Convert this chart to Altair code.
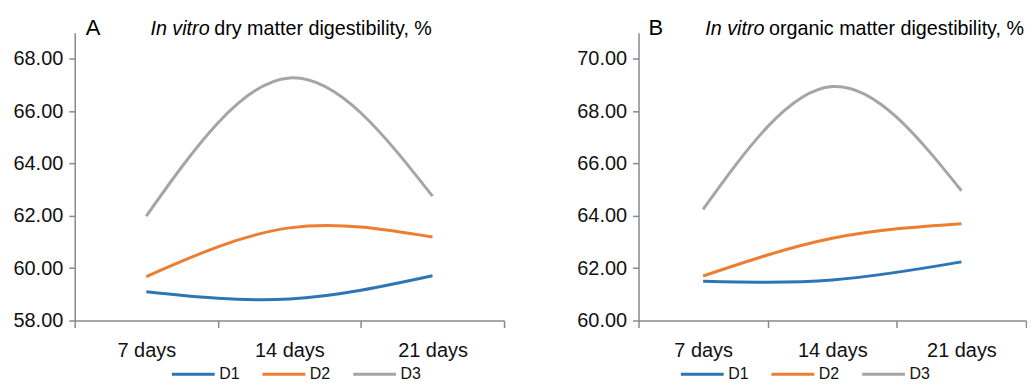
import altair as alt
import pandas as pd

FONT = "Liberation Sans, Arial, sans-serif"

days = ["7 days", "14 days", "21 days"]
series = ["D1", "D2", "D3"]
colors = ["#2E75B6", "#ED7D31", "#A5A5A5"]

a_d1 = [59.10, 58.82, 59.71]
a_d2 = [59.68, 61.54, 61.19]
a_d3 = [61.99, 67.27, 62.75]

b_d1 = [61.50, 61.55, 62.24]
b_d2 = [61.70, 63.14, 63.70]
b_d3 = [64.25, 68.94, 64.96]

a_ticks = [58, 60, 62, 64, 66, 68]
b_ticks = [60, 62, 64, 66, 68, 70]

AXIS_GRAY = "#898989"
PLOT_H = 289


def panel(vals, ymin, ticks, letter, italic, rest, w, pos, legx):
    rows = []
    for s, v in zip(series, vals):
        for d, y in zip(days, v):
            rows.append({"day": d, "series": s, "value": y})
    df = pd.DataFrame(rows)

    lines = alt.Chart(df).mark_line(interpolate="natural", strokeWidth=3).encode(
        x=alt.X(
            "day:N",
            sort=days,
            bandPosition=0.5,
            scale=alt.Scale(type="band", paddingInner=0, paddingOuter=0),
            axis=alt.Axis(
                title=None, labelAngle=0, tickBand="extent", tickSize=7,
                tickColor=AXIS_GRAY, domainColor=AXIS_GRAY, domainWidth=1.5, tickWidth=1.5,
                labelFont=FONT, labelFontSize=20, labelColor="#111111", labelPadding=13,
                grid=False,
            ),
        ),
        y=alt.Y(
            "value:Q",
            scale=alt.Scale(domain=[ymin, ymin + 11], nice=False, zero=False),
            axis=alt.Axis(
                title=None, values=ticks, format=".2f", tickSize=6,
                tickColor=AXIS_GRAY, domainColor=AXIS_GRAY, domainWidth=1.5, tickWidth=1.5,
                labelFont=FONT, labelFontSize=20, labelColor="#111111", labelPadding=6,
                grid=False,
            ),
        ),
        color=alt.Color(
            "series:N",
            scale=alt.Scale(domain=series, range=colors),
            legend=alt.Legend(
                title=None, orient="none", direction="horizontal",
                legendX=legx, legendY=PLOT_H + 46,
                symbolType="stroke", symbolSize=1849, symbolStrokeWidth=3,
                clipHeight=16,
                labelFont=FONT, labelFontSize=16, labelColor="#111111",
                labelOffset=3, columnPadding=21, padding=0,
            ),
        ),
    )

    t_letter = alt.Chart(pd.DataFrame({"t": [letter]})).mark_text(
        font=FONT, fontSize=22, align="left", baseline="alphabetic", color="#000000"
    ).encode(x=alt.value(pos[0]), y=alt.value(2.5), text="t:N")
    t_ital = alt.Chart(pd.DataFrame({"t": [italic]})).mark_text(
        font=FONT, fontSize=19.8, fontStyle="italic", align="left", baseline="alphabetic", color="#000000"
    ).encode(x=alt.value(pos[1]), y=alt.value(2.5), text="t:N")
    t_rest = alt.Chart(pd.DataFrame({"t": [rest]})).mark_text(
        font=FONT, fontSize=19.8, align="left", baseline="alphabetic", color="#000000"
    ).encode(x=alt.value(pos[2]), y=alt.value(2.5), text="t:N")

    return alt.layer(lines, t_letter, t_ital, t_rest).properties(width=w, height=PLOT_H)


pa = panel([a_d1, a_d2, a_d3], 58, a_ticks, "A", "In vitro", "dry matter digestibility, %",
           431, (11, 76, 140), 96)
pb = panel([b_d1, b_d2, b_d3], 60, b_ticks, "B", "In vitro", "organic matter digestibility, %",
           389, (10, 67, 131), 41)

chart = alt.hconcat(pa, pb, spacing=71).resolve_scale(color="independent").properties(
    padding={"left": 4, "top": 8, "right": 0, "bottom": 0}
).configure_view(stroke=None)

chart.save("out.html", embed_options={"renderer": "svg", "actions": False})
